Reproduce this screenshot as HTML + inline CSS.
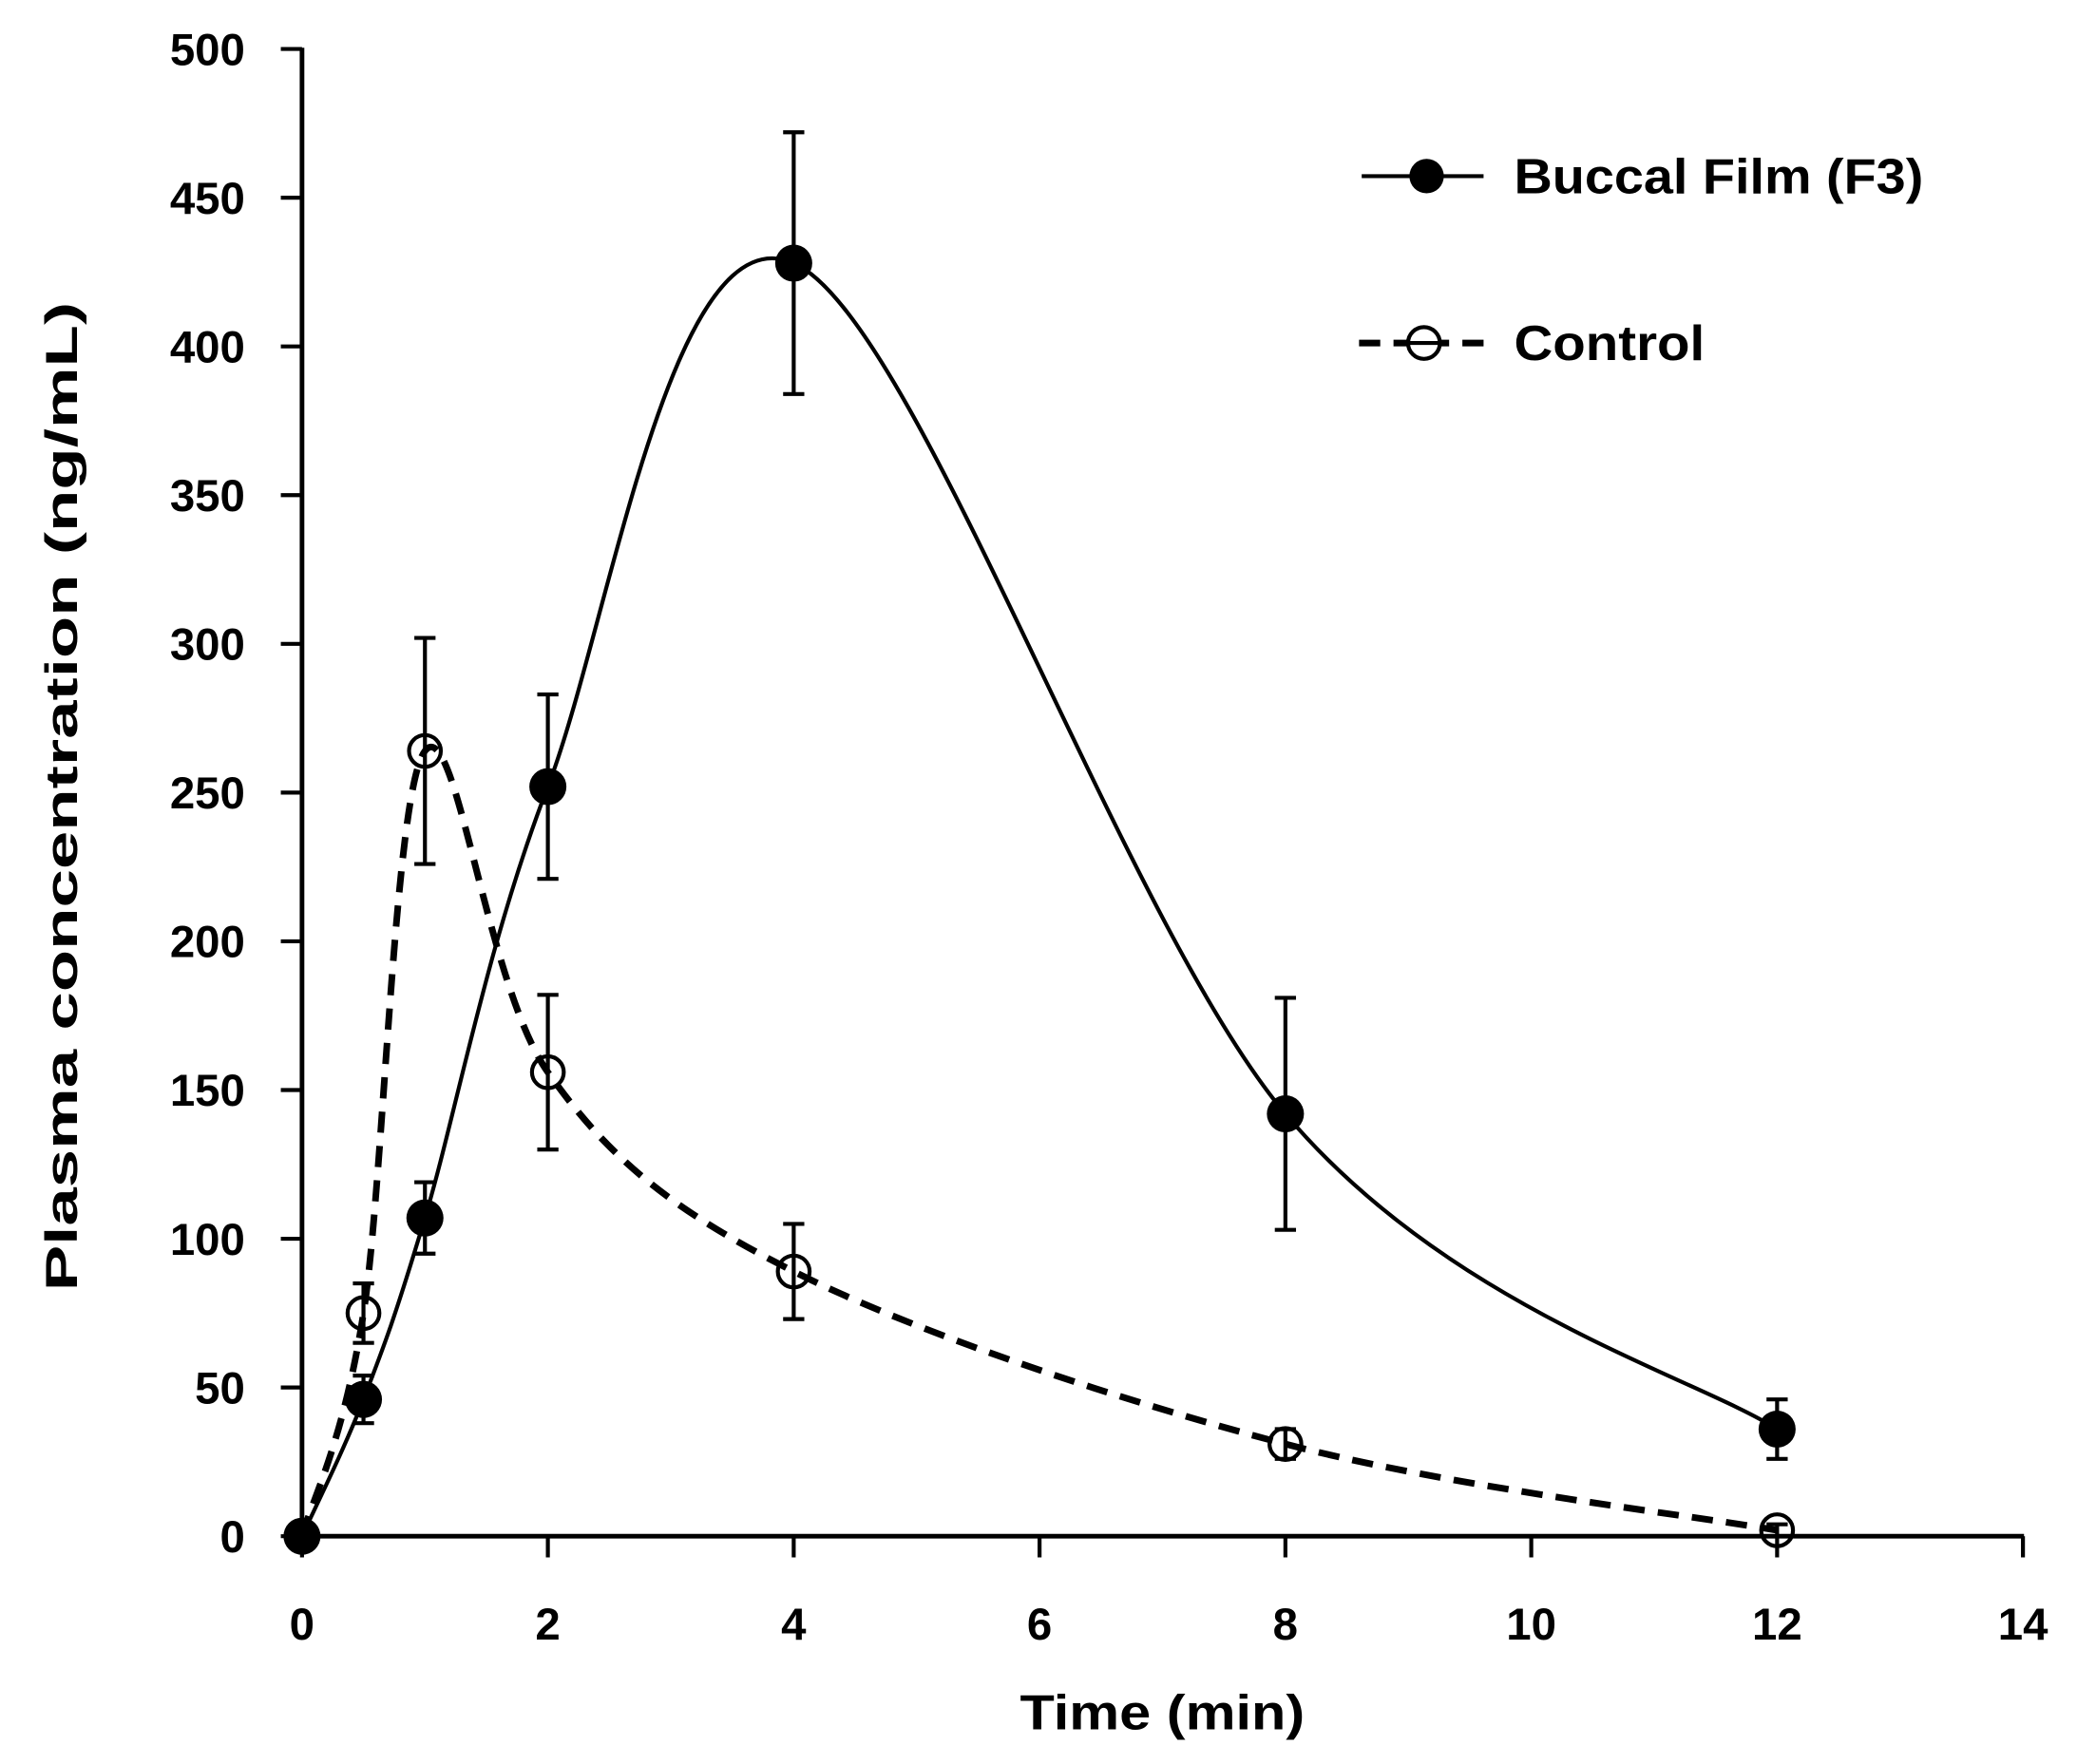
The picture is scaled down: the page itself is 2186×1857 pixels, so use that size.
<!DOCTYPE html>
<html><head><meta charset="utf-8"><style>
html,body{margin:0;padding:0;background:#fff;}
svg{display:block;}
text{font-family:"Liberation Sans",sans-serif;font-weight:bold;fill:#000;}
</style></head><body>
<svg id="s" width="2186" height="1857" viewBox="0 0 1568 1332" preserveAspectRatio="none" xmlns="http://www.w3.org/2000/svg">
<g id="axes" stroke="#000" stroke-width="3.5" fill="none">
<line x1="228" y1="36" x2="228" y2="1162"/>
<line x1="226" y1="1160" x2="1528" y2="1160"/>
</g>
<g id="ticks" stroke="#000" stroke-width="3"></g>
<g id="labels" font-size="34"></g>
<text x="770" y="1306" font-size="37" textLength="215" lengthAdjust="spacingAndGlyphs">Time (min)</text>
<text transform="translate(58,975) rotate(-90)" font-size="34" textLength="747" lengthAdjust="spacingAndGlyphs">Plasma concentration (ng/mL)</text>
<g id="data"></g>
<g>
<line x1="1028" y1="133" x2="1120" y2="133" stroke="#000" stroke-width="3"/>
<circle cx="1077" cy="133" r="13" fill="#000"/>
<text x="1143" y="146" font-size="37" textLength="309" lengthAdjust="spacingAndGlyphs">Buccal Film (F3)</text>
<line x1="1026" y1="259" x2="1122" y2="259" stroke="#000" stroke-width="5" stroke-dasharray="16,10"/>
<circle cx="1075" cy="259" r="12" fill="#fff" stroke="#000" stroke-width="3"/>
<line x1="1063" y1="259" x2="1087" y2="259" stroke="#000" stroke-width="3"/>
<text x="1143" y="272" font-size="37" textLength="144" lengthAdjust="spacingAndGlyphs">Control</text>
</g>
</svg>
<script>
var NS="http://www.w3.org/2000/svg";
function X(t){return 228+t*92.8;}
function Y(v){return 1160-v*2.246;}
function el(tag,attrs,parent){var e=document.createElementNS(NS,tag);for(var k in attrs)e.setAttribute(k,attrs[k]);document.getElementById(parent).appendChild(e);return e;}
for(var v=0;v<=500;v+=50){el("line",{x1:212,y1:Y(v),x2:228,y2:Y(v)},"ticks");var t=el("text",{x:185,y:Y(v)+12,"text-anchor":"end"},"labels");t.textContent=v;}
for(var x=0;x<=14;x+=2){el("line",{x1:X(x),y1:1160,x2:X(x),y2:1176},"ticks");var t=el("text",{x:X(x),y:1238,"text-anchor":"middle"},"labels");t.textContent=x;}
function path(pts){var P=pts.map(function(p){return [X(p[0]),Y(p[1])];});var d="M"+P[0][0]+","+P[0][1];
for(var i=0;i<P.length-1;i++){var p0=P[Math.max(i-1,0)],p1=P[i],p2=P[i+1],p3=P[Math.min(i+2,P.length-1)];
var c1=[p1[0]+(p2[0]-p0[0])/6,p1[1]+(p2[1]-p0[1])/6],c2=[p2[0]-(p3[0]-p1[0])/6,p2[1]-(p3[1]-p1[1])/6];
d+=" C"+c1+" "+c2+" "+p2;}return d;}
var T=[0,0.5,1,2,4,8,12];
var B=[0,46,107,252,428,142,36],Be=[0,8,12,31,44,39,10];
var C=[0,75,264,156,89,31,2],Ce=[0,10,38,26,16,5,2];
function err(v,e){for(var i=0;i<T.length;i++){if(!e[i])continue;var x=X(T[i]);el("line",{x1:x,y1:Y(v[i]+e[i]),x2:x,y2:Y(v[i]-e[i]),stroke:"#000","stroke-width":3},"data");
[v[i]+e[i],v[i]-e[i]].forEach(function(w){el("line",{x1:x-8,y1:Y(w),x2:x+8,y2:Y(w),stroke:"#000","stroke-width":3},"data");});}}
err(B,Be);err(C,Ce);
el("path",{d:path(T.map(function(t,i){return [t,B[i]];})),fill:"none",stroke:"#000","stroke-width":3},"data");
el("path",{d:path(T.map(function(t,i){return [t,C[i]];})),fill:"none",stroke:"#000","stroke-width":5,"stroke-dasharray":"16,10"},"data");
for(var i=0;i<T.length;i++){el("circle",{cx:X(T[i]),cy:Y(C[i]),r:12,fill:"none",stroke:"#000","stroke-width":3},"data");}
for(var i=0;i<T.length;i++){el("circle",{cx:X(T[i]),cy:Y(B[i]),r:14,fill:"#000"},"data");}
</script>
</body></html>
